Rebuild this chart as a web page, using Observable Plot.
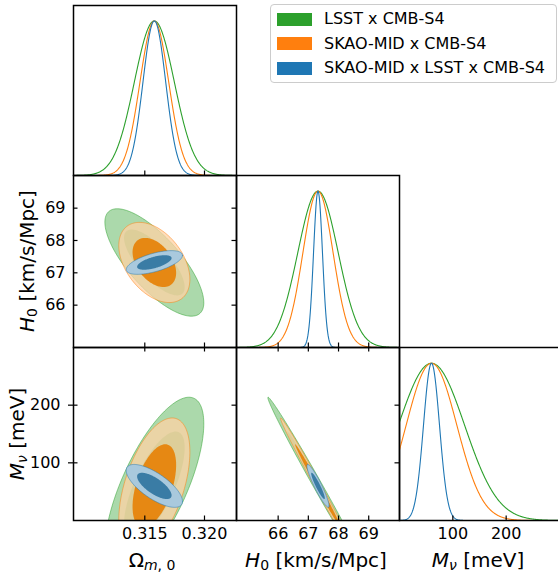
<!DOCTYPE html>
<html><head><meta charset="utf-8">
<script src="https://cdn.jsdelivr.net/npm/d3@7"></script>
<script src="https://cdn.jsdelivr.net/npm/@observablehq/plot@0.6"></script>
<style>
html,body{margin:0;padding:0;background:#fff;overflow:hidden;}
#chart{position:relative;width:558px;height:574px;font-family:"DejaVu Sans",sans-serif;background:#fff;overflow:hidden;}
#legend{position:absolute;left:270px;top:4px;width:287px;height:79px;box-sizing:border-box;border:1px solid #cccccc;border-radius:4px;background:rgba(255,255,255,0.8);}
.lg-patch{position:absolute;left:6px;width:35px;height:13px;}
.lg-text{position:absolute;left:53px;font-size:16px;line-height:16px;white-space:nowrap;color:#000;}
</style></head>
<body><div id="chart"></div>
<script>
// ---- data ----
const seriesNames = ["LSST x CMB-S4", "SKAO-MID x CMB-S4", "SKAO-MID x LSST x CMB-S4"];
const seriesColors = ["#2ca02c", "#ff7f0e", "#1f77b4"];
const paramNames = ["Omega_m0", "H0", "Mnu"];
const fiducialValues = [0.3158, 67.32, 60];
const sigmaOm = [0.00167, 0.00120, 0.00095];
const sigmaH0 = [0.67, 0.50, 0.148];
const sigmaMnu = [62, 47.5, 15];
const rhoOmH0 = [-0.75, -0.42, 0.60];
const rhoOmMnu = [0.70, 0.50, -0.72];
const rhoH0Mnu = [-0.995, -0.995, -0.93];
const contourK = [2.48, 1.52];          // 95% and 68% 2D contours (sqrt of delta chi^2)
const omTicks = [0.315, 0.320];
const h0Ticks = [66, 67, 68, 69];
const mnuTicks = [100, 200];
const omDomain = [0.30903, 0.32268];
const h0DomainX = [64.62, 70.02];
const h0DomainY = [64.69, 70.01];
const mnuDomain = [0, 300];
const pdfDomain = [0, 1.1];

// ---- styling ----
const outerFill = ["#2ca02c", "#ffd2a4", "#a9c9dd"];
const outerOpacity = [0.4, 0.75, 1];
const innerFill = ["#2ca02c", "#e6850e", "#3a7ca5"];
const innerOpacity = [0.4, 0.97, 1];

const colX = [73, 236, 399], colW = [163, 163, 160];
const rowY = [5, 175, 347], rowH = [170, 172, 173];
const TK = 4.5;

const chart = document.getElementById("chart");

function ellipse(mx, my, sx, sy, rho, k) {
  const r = Math.sqrt(1 - rho * rho);
  return d3.range(0, 360, 2).map(a => {
    const t = a * Math.PI / 180, c = Math.cos(t), s = Math.sin(t);
    return {x: mx + k * sx * c, y: my + k * sy * (rho * c + r * s)};
  });
}
function gauss(m, s, dom) {
  return d3.range(0, 401).map(i => {
    const x = dom[0] + (dom[1] - dom[0]) * i / 400;
    return {x, y: Math.exp(-0.5 * ((x - m) / s) ** 2)};
  });
}
function contourMarks(ix, iy, sX, sY, rho) {
  const marks = [];
  for (let i = 0; i < 3; i++) {
    const o = ellipse(fiducialValues[ix], fiducialValues[iy], sX[i], sY[i], rho[i], contourK[0]);
    const n = ellipse(fiducialValues[ix], fiducialValues[iy], sX[i], sY[i], rho[i], contourK[1]);
    marks.push(Plot.line(o, {x: "x", y: "y", curve: "linear-closed", fill: outerFill[i], fillOpacity: outerOpacity[i], stroke: seriesColors[i], strokeOpacity: 0.5, strokeWidth: 1, clip: true}));
    marks.push(Plot.line(n, {x: "x", y: "y", curve: "linear-closed", fill: innerFill[i], fillOpacity: innerOpacity[i], stroke: "none", clip: true}));
  }
  return marks;
}
function pdfMarks(ip, sig, dom) {
  return [0, 1, 2].map(i => Plot.line(gauss(fiducialValues[ip], sig[i], dom), {x: "x", y: "y", stroke: seriesColors[i], strokeWidth: 1.1, clip: true}));
}
const tBottom = (v, h) => Plot.tickX(v, {x: d => d, insetTop: h - TK, strokeWidth: 1.2, stroke: "black"});
const tTop = (v, h) => Plot.tickX(v, {x: d => d, insetBottom: h - TK, strokeWidth: 1.2, stroke: "black"});
const tLeft = (v, w, out = 0) => Plot.tickY(v, {y: d => d, insetRight: w - TK, insetLeft: -out, strokeWidth: 1.2, stroke: "black"});
const tRight = (v, w) => Plot.tickY(v, {y: d => d, insetLeft: w - TK, strokeWidth: 1.2, stroke: "black"});
const frame = () => Plot.frame({stroke: "black", strokeWidth: 1.5});

function panel(c, r, xDomain, yDomain, marks) {
  const svg = Plot.plot({
    width: colW[c], height: rowH[r], margin: 0,
    x: {domain: xDomain, axis: null},
    y: {domain: yDomain, axis: null},
    style: {overflow: "visible", background: "transparent", fontFamily: "DejaVu Sans", fontSize: "16px", color: "black"},
    marks
  });
  svg.style.position = "absolute";
  svg.style.left = colX[c] + "px";
  svg.style.top = rowY[r] + "px";
  svg.style.maxWidth = "none";
  chart.appendChild(svg);
}
const fmtOm = d3.format(".3f");

// Row 0: Omega 1D
panel(0, 0, omDomain, pdfDomain, [
  ...pdfMarks(0, sigmaOm, omDomain),
  tBottom(omTicks, rowH[0]), frame()
]);
// Row 1: Omega-H0
panel(0, 1, omDomain, h0DomainY, [
  ...contourMarks(0, 1, sigmaOm, sigmaH0, rhoOmH0),
  tBottom(omTicks, rowH[1]), tLeft(h0Ticks, colW[0]), tRight(h0Ticks, colW[0]), frame(),
  Plot.axisY(h0Ticks, {anchor: "left", tickSize: 0, tickPadding: 8, fontSize: 16, label: null})
]);
// Row 1: H0 1D
panel(1, 1, h0DomainX, pdfDomain, [
  ...pdfMarks(1, sigmaH0, h0DomainX),
  tBottom(h0Ticks, rowH[1]), frame()
]);
// Row 2: Omega-Mnu
panel(0, 2, omDomain, mnuDomain, [
  ...contourMarks(0, 2, sigmaOm, sigmaMnu, rhoOmMnu),
  tBottom(omTicks, rowH[2]), tTop(omTicks, rowH[2]), tLeft(mnuTicks, colW[0], 5), tRight(mnuTicks, colW[0]), frame(),
  Plot.axisY(mnuTicks, {anchor: "left", tickSize: 0, tickPadding: 13, fontSize: 16, label: null}),
  Plot.axisX(omTicks, {anchor: "bottom", tickSize: 0, tickPadding: 7, fontSize: 16, tickFormat: fmtOm, label: null})
]);
// Row 2: H0-Mnu
panel(1, 2, h0DomainX, mnuDomain, [
  ...contourMarks(1, 2, sigmaH0, sigmaMnu, rhoH0Mnu),
  tBottom(h0Ticks, rowH[2]), tTop(h0Ticks, rowH[2]), tRight(mnuTicks, colW[1]), frame(),
  Plot.axisX(h0Ticks, {anchor: "bottom", tickSize: 0, tickPadding: 7, fontSize: 16, label: null})
]);
// Row 2: Mnu 1D
panel(2, 2, mnuDomain, pdfDomain, [
  ...pdfMarks(2, sigmaMnu, mnuDomain),
  tBottom(mnuTicks, rowH[2]), frame(),
  Plot.axisX(mnuTicks, {anchor: "bottom", tickSize: 0, tickPadding: 7, fontSize: 16, label: null})
]);

// ---- axis labels (math-style text) ----
const ov = d3.select(chart).append("svg")
  .attr("width", 558).attr("height", 574)
  .style("position", "absolute").style("left", "0px").style("top", "0px")
  .style("pointer-events", "none")
  .attr("font-family", "DejaVu Sans").attr("font-size", 20).attr("fill", "black");

function addLabel(g, parts) {
  const t = g.append("text").attr("text-anchor", "middle");
  for (const p of parts) {
    const s = t.append("tspan").text(p.t);
    if (p.i) s.attr("font-style", "italic");
    if (p.sub) s.attr("font-size", 14);
    if (p.dy) s.attr("dy", p.dy);
  }
}
addLabel(ov.append("g").attr("transform", "translate(152,567)"),
  [{t: "Ω"}, {t: "m", i: 1, sub: 1, dy: 3}, {t: ", 0", sub: 1}]);
addLabel(ov.append("g").attr("transform", "translate(316,567)"),
  [{t: "H", i: 1}, {t: "0", sub: 1, dy: 3}, {t: " [km/s/Mpc]", dy: -3}]);
addLabel(ov.append("g").attr("transform", "translate(478,567)"),
  [{t: "M", i: 1}, {t: "ν", i: 1, sub: 1, dy: 3}, {t: " [meV]", dy: -3}]);
addLabel(ov.append("g").attr("transform", "translate(33.5,261) rotate(-90)"),
  [{t: "H", i: 1}, {t: "0", sub: 1, dy: 3}, {t: " [km/s/Mpc]", dy: -3}]);
addLabel(ov.append("g").attr("transform", "translate(24,434) rotate(-90)"),
  [{t: "M", i: 1}, {t: "ν", i: 1, sub: 1, dy: 3}, {t: " [meV]", dy: -3}]);

// ---- legend ----
const legend = d3.select(chart).append("div").attr("id", "legend");
const rowCenters = [14, 38.5, 63];
seriesNames.forEach((name, i) => {
  legend.append("div").attr("class", "lg-patch")
    .style("top", (rowCenters[i] - 6.5) + "px").style("background", seriesColors[i]);
  legend.append("div").attr("class", "lg-text")
    .style("top", (rowCenters[i] - 8) + "px").text(name);
});
</script>
</body></html>
